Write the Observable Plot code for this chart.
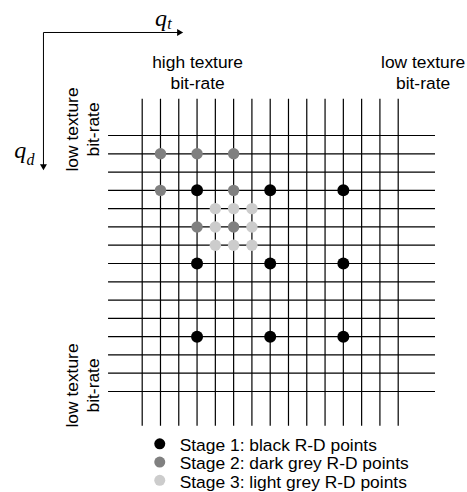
<!DOCTYPE html>
<html><head><meta charset="utf-8">
<script src="https://cdn.jsdelivr.net/npm/d3@7"></script>
<script src="https://cdn.jsdelivr.net/npm/@observablehq/plot@0.6"></script>
<style>body{margin:0;background:#fff}#chart svg{display:block}</style>
</head><body><div id="chart"></div>
<script>
// grid line indices (texture quantizer q_t along x, depth quantizer q_d along y)
const gridLines = [0,1,2,3,4,5,6,7,8,9,10,11,12,13,14];
// R-D points as [column, row]
const stage1 = [[3,3],[7,3],[11,3],[3,7],[7,7],[11,7],[3,11],[7,11],[11,11]];
const stage2 = [[1,1],[3,1],[5,1],[1,3],[5,3],[3,5],[5,5]];
const stage3 = [[4,4],[5,4],[6,4],[4,5],[6,5],[4,6],[5,6],[6,6]];
const legendLabels = ["Stage 1: black R-D points","Stage 2: dark grey R-D points","Stage 3: light grey R-D points"];
const legendColors = ["#000000","#808080","#cccccc"];
const legendRows = [17,18,19];
const cornerLabels = ["high texture\nbit-rate","low texture\nbit-rate"];
const sideLabels = ["low texture\nbit-rate","low texture\nbit-rate"];

const sans = "Liberation Sans, Arial, Helvetica, sans-serif";
const serif = "Liberation Serif, Times New Roman, serif";
const ext = {top:-1.98, bottom:15.9, left:-1.84, right:16.04};

const chart = Plot.plot({
  width: 467, height: 492,
  x: {domain:[0,14], range:[141.7,397.7], axis:null},
  y: {domain:[0,14], range:[135,391], axis:null},
  style: {background:"#fff", fontFamily: sans, overflow:"visible"},
  marks: [
    Plot.ruleX(gridLines, {x: d=>d, y1: ext.top, y2: ext.bottom, stroke:"#000", strokeWidth:1.2}),
    Plot.ruleY(gridLines, {y: d=>d, x1: ext.left, x2: ext.right, stroke:"#000", strokeWidth:1.2}),
    Plot.dot(stage1, {x: d=>d[0], y: d=>d[1], r:6, fill:legendColors[0], stroke:null}),
    Plot.dot(stage2, {x: d=>d[0], y: d=>d[1], r:5.7, fill:legendColors[1], stroke:null}),
    Plot.dot(stage3, {x: d=>d[0], y: d=>d[1], r:5.7, fill:legendColors[2], stroke:null}),
    // axis arrows
    Plot.link([0], {x1:-5.40, y1:-5.633, x2:1.98, y2:-5.633, stroke:"#000", strokeWidth:1}),
    Plot.link([0], {x1:-5.40, y1:-5.633, x2:-5.40, y2:1.64, stroke:"#000", strokeWidth:1}),
    Plot.dot([0], {x:2.02, y:-5.633, symbol:"triangle", r:2.6, fill:"#000", stroke:null, rotate:90}),
    Plot.dot([0], {x:-5.40, y:1.68, symbol:"triangle", r:2.6, fill:"#000", stroke:null, rotate:180}),
    // axis names q_t, q_d
    Plot.text(["q"], {text:d=>d, x:0.70, y:-6.40, textAnchor:"start", fontSize:24, fontStyle:"italic", fontFamily:serif}),
    Plot.text(["t"], {text:d=>d, x:1.37, y:-6.11, textAnchor:"start", fontSize:16, fontStyle:"italic", fontFamily:serif}),
    Plot.text(["q"], {text:d=>d, x:-7.0, y:0.80, textAnchor:"start", fontSize:24, fontStyle:"italic", fontFamily:serif}),
    Plot.text(["d"], {text:d=>d, x:-6.33, y:1.32, textAnchor:"start", fontSize:16, fontStyle:"italic", fontFamily:serif}),
    // corner labels
    Plot.text(cornerLabels, {text:d=>d, x:(d,i)=>[3.03,15.36][i], y:-3.46, fontSize:17.4, lineHeight:1.2, fill:"#000"}),
    Plot.text(sideLabels, {text:d=>d, x:-3.32, y:(d,i)=>[-0.33,13.67][i], rotate:-90, fontSize:17.4, lineHeight:1.2, fill:"#000"}),
    // legend
    Plot.dot(legendRows, {x:0.96, y:d=>d - 0.14, r:5.5, fill:(d,i)=>legendColors[i], stroke:null}),
    Plot.text(legendLabels, {text:d=>d, x:2.05, y:(d,i)=>legendRows[i] - 0.05, textAnchor:"start", fontSize:17.4, fill:"#000"})
  ]
});
document.getElementById("chart").append(chart);
</script>
</body></html>
